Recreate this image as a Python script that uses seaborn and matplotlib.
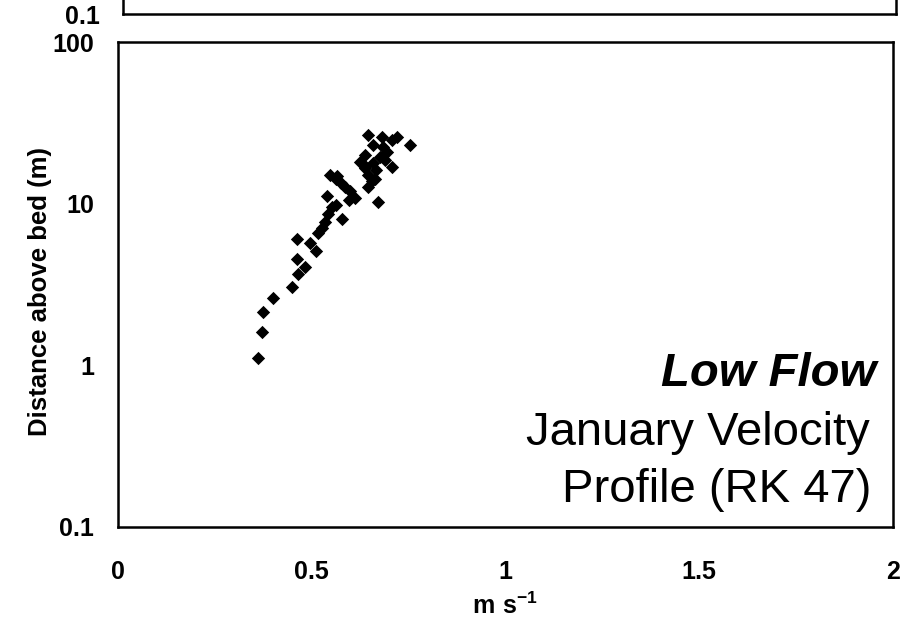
# Low flow velocity profile (RK 47) - January
# scatter of velocity vs distance above bed on a log axis

import matplotlib
matplotlib.use("Agg")
import matplotlib.pyplot as plt
import seaborn as sns
import pandas as pd

# -----------------------------
# Data
# -----------------------------
velocity = [0.363, 0.373, 0.375, 0.401, 0.450, 0.466, 0.484, 0.463, 0.463, 0.497,
            0.512, 0.517, 0.528, 0.535, 0.543, 0.554, 0.541, 0.579, 0.548, 0.564,
            0.577, 0.587, 0.600, 0.613, 0.672, 0.646, 0.657, 0.639, 0.646, 0.683,
            0.721, 0.755, 0.659, 0.695, 0.639, 0.677, 0.708, 0.639, 0.659, 0.665,
            0.646, 0.685, 0.626, 0.666, 0.690, 0.564, 0.597, 0.566, 0.708]
height = [1.11, 1.61, 2.14, 2.61, 3.05, 3.67, 4.06, 4.55, 6.05, 5.71,
          5.10, 6.59, 7.08, 7.71, 8.64, 9.54, 11.2, 8.04, 15.0, 14.2,
          13.4, 12.7, 12.0, 10.8, 10.3, 12.7, 13.8, 16.6, 26.6, 25.8,
          25.8, 23.1, 23.1, 20.9, 20.0, 19.5, 16.9, 17.1, 17.8, 14.2,
          15.0, 22.4, 18.1, 16.2, 18.6, 9.8, 10.5, 14.8, 24.8]

x_ticks = [0, 0.5, 1, 1.5, 2]
x_tick_labels = ["0", "0.5", "1", "1.5", "2"]
y_ticks = [0.1, 1, 10, 100]
y_tick_labels = ["0.1", "1", "10", "100"]

df = pd.DataFrame({"velocity": velocity, "height": height})

# -----------------------------
# Style
# -----------------------------
sns.set_theme(style="white")
plt.rcParams["font.family"] = ["Liberation Sans", "DejaVu Sans"]
plt.rcParams["mathtext.fontset"] = "custom"
plt.rcParams["mathtext.rm"] = "Liberation Sans"
plt.rcParams["mathtext.bf"] = "Liberation Sans:bold"
plt.rcParams["text.color"] = "black"
plt.rcParams["axes.labelcolor"] = "black"

W, H = 918, 624
fig = plt.figure(figsize=(W / 100, H / 100), dpi=100)
fig.patch.set_facecolor("white")

# main panel
ax = fig.add_axes([117.5 / W, 1 - 527 / H, (893 - 117.5) / W, (527 - 42) / H])
# bottom edge of the panel above (cut off by the page)
top = fig.add_axes([123 / W, 1 - 14 / H, 773 / W, 485 / H])


def style_axis(a, show_x_labels=True):
    a.set_yscale("log")
    a.set_xlim(0, 2)
    a.set_ylim(0.1, 100)
    a.set_xticks(x_ticks)
    a.set_yticks(y_ticks)
    a.minorticks_off()
    a.set_xticklabels(x_tick_labels if show_x_labels else [], fontweight="bold", fontsize=18)
    a.set_yticklabels(y_tick_labels, fontweight="bold", fontsize=18)
    a.tick_params(axis="both", direction="in", length=5, width=0.8,
                  color="#999999", labelcolor="black")
    a.tick_params(axis="x", pad=24)
    a.tick_params(axis="y", pad=17)
    for sp in a.spines.values():
        sp.set_color("black")
        sp.set_linewidth(1.8)
    a.set_facecolor("white")


style_axis(ax)
style_axis(top, show_x_labels=False)
top.set_yticks([0.1])
top.set_yticklabels(["0.1"], fontweight="bold", fontsize=18)
top.set_xlabel("")
top.set_ylabel("")

sns.scatterplot(data=df, x="velocity", y="height", marker="D", color="black",
                s=46, linewidth=0, ax=ax, legend=False)

ax.set_xlabel(r"$\mathbf{m\ s^{-1}}$", fontsize=18, labelpad=6)
ax.set_ylabel("Distance above bed (m)", fontsize=18.5, fontweight="bold")
ax.yaxis.set_label_coords(-0.085, 0.485)

ax.text(0.979, 0.291, "Low Flow", transform=ax.transAxes, ha="right", va="baseline",
        fontsize=34, fontweight="bold", fontstyle="italic")
ax.text(0.97, 0.169, "January Velocity", transform=ax.transAxes, ha="right",
        va="baseline", fontsize=34)
ax.text(0.972, 0.052, "Profile (RK 47)", transform=ax.transAxes, ha="right",
        va="baseline", fontsize=34)

fig.savefig("out.png", dpi=100, facecolor="white")
